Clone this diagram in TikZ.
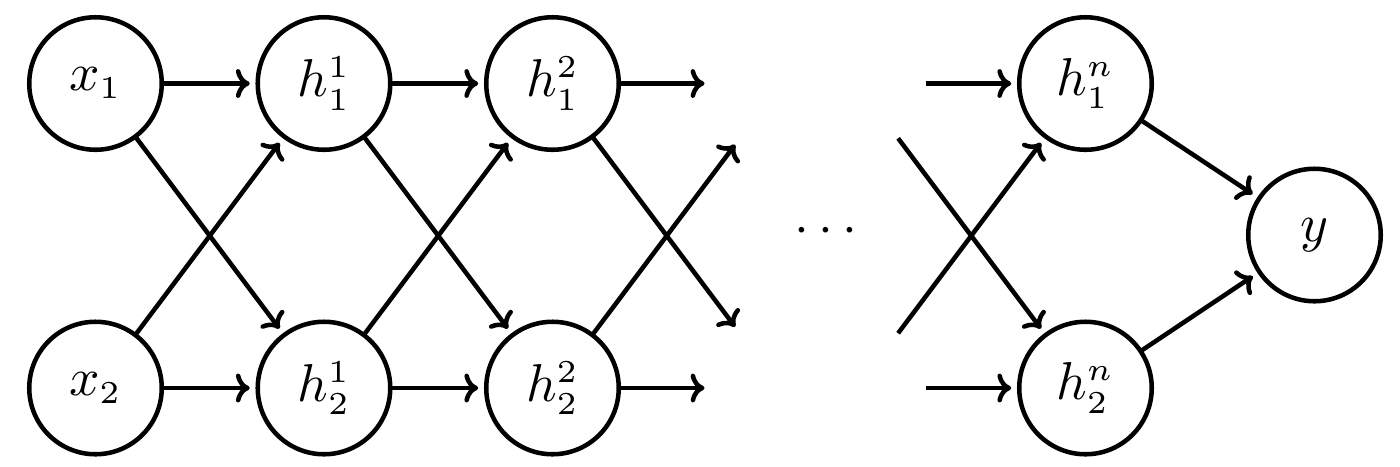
\documentclass[tikz,border=0pt]{standalone}
\usepackage{fix-cm}
\usetikzlibrary{arrows.meta}
\DeclareMathSizes{10}{10}{6}{5}
\begin{document}
\begin{tikzpicture}[x=0.1876pt,y=-0.1876pt,
  neuron/.style={circle,draw,line width=0.85pt,minimum size=24.86pt,inner sep=0pt,outer sep=0pt},
  ghost/.style={circle,minimum size=25.7pt,inner sep=0pt,outer sep=0pt},
  conn/.style={line width=0.85pt,-{To[length=2.6pt,width=5.4pt]},shorten >=1.5pt}]
\useasboundingbox (0,0) rectangle (1400,466);
\node[neuron] (x1) at (95.5,83.5) {$x_1$};
\node[neuron] (x2) at (95.5,388) {$x_2$};
\node[neuron] (h11) at (324,83.5) {$h_1^1$};
\node[neuron] (h12) at (324,388) {$h_2^1$};
\node[neuron] (h21) at (552.5,83.5) {$h_1^2$};
\node[neuron] (h22) at (552.5,388) {$h_2^2$};
\node[ghost] (g1) at (781,83.5) {};
\node[ghost] (g2) at (781,388) {};
\node[ghost] (k1) at (857,83.5) {};
\node[ghost] (k2) at (857,388) {};
\node[neuron] (hn1) at (1085.5,83.5) {$h_1^n$};
\node[neuron] (hn2) at (1085.5,388) {$h_2^n$};
\node[neuron] (y) at (1314.5,235) {$y$};
\node (dots) at (826,232) {$\cdots$};
\draw[conn] (x1) -- (h11);
\draw[conn] (x1) -- (h12);
\draw[conn] (x2) -- (h11);
\draw[conn] (x2) -- (h12);
\draw[conn] (h11) -- (h21);
\draw[conn] (h11) -- (h22);
\draw[conn] (h12) -- (h21);
\draw[conn] (h12) -- (h22);
\draw[conn] (h21) -- (g1);
\draw[conn] (h21) -- (g2);
\draw[conn] (h22) -- (g1);
\draw[conn] (h22) -- (g2);
\draw[conn] (k1) -- (hn1);
\draw[conn] (k1) -- (hn2);
\draw[conn] (k2) -- (hn1);
\draw[conn] (k2) -- (hn2);
\draw[conn] (hn1) -- (y);
\draw[conn] (hn2) -- (y);
\end{tikzpicture}
\end{document}
